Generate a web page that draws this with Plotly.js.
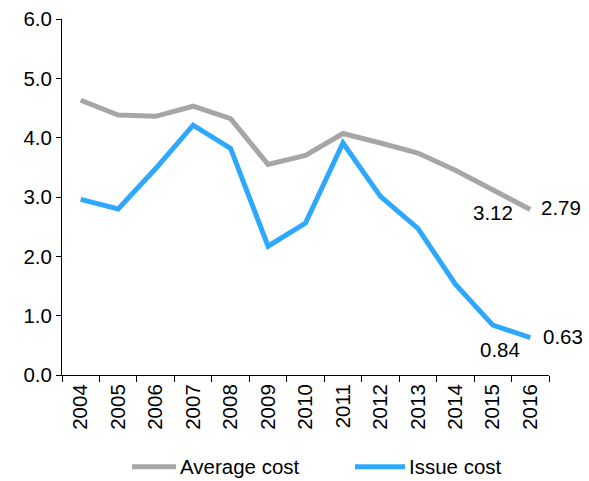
<!DOCTYPE html>
<html>
<head>
<meta charset="utf-8">
<script src="https://cdn.plot.ly/plotly-3.0.1.min.js"></script>
<style>html,body{margin:0;padding:0;background:#fff;}#chart{width:589px;height:481px;}</style>
</head>
<body>
<div id="chart"></div>
<script>
var years = ["2004","2005","2006","2007","2008","2009","2010","2011","2012","2013","2014","2015","2016"];
var averageCost = [4.63, 4.38, 4.36, 4.53, 4.32, 3.55, 3.70, 4.07, 3.91, 3.74, 3.45, 3.12, 2.79];
var issueCost = [2.96, 2.80, 3.48, 4.21, 3.82, 2.17, 2.56, 3.91, 3.01, 2.47, 1.53, 0.84, 0.63];
var yTicks = [0, 1, 2, 3, 4, 5, 6];
var yTickLabels = ["0.0", "1.0", "2.0", "3.0", "4.0", "5.0", "6.0"];
var seriesNames = ["Average cost", "Issue cost"];

var grey = "#A6A6A6", blue = "#2EA8FF";
var FONT = "Liberation Sans, Arial, sans-serif";
var fs = 20.5;

var traces = [
  {x: years, y: averageCost, type: "scatter", mode: "lines", name: seriesNames[0],
   line: {color: grey, width: 5}, showlegend: false, hoverinfo: "skip"},
  {x: years, y: issueCost, type: "scatter", mode: "lines", name: seriesNames[1],
   line: {color: blue, width: 5}, showlegend: false, hoverinfo: "skip"}
];

var n = years.length;
function lbl(i, yv, xs, ys) {
  return {x: i, y: yv, xref: "x", yref: "y", text: yv.toFixed(2), showarrow: false,
          xshift: xs, yshift: ys, font: {family: FONT, size: fs, color: "#000"}};
}
var annotations = [
  lbl(n - 2, averageCost[n-2], 0, -23),
  lbl(n - 1, averageCost[n-1], 31, 2),
  lbl(n - 2, issueCost[n-2], 7, -24),
  lbl(n - 1, issueCost[n-1], 33, 1),
  {x: 0.238, y: -0.258, xref: "paper", yref: "paper", xanchor: "left", yanchor: "middle",
   text: seriesNames[0], showarrow: false, font: {family: FONT, size: fs, color: "#000"}},
  {x: 0.708, y: -0.258, xref: "paper", yref: "paper", xanchor: "left", yanchor: "middle",
   text: seriesNames[1], showarrow: false, font: {family: FONT, size: fs, color: "#000"}}
];
var shapes = [
  {type: "line", xref: "paper", yref: "paper", x0: 0.1437, x1: 0.234, y0: -0.258, y1: -0.258,
   line: {color: grey, width: 5}},
  {type: "line", xref: "paper", yref: "paper", x0: 0.6016, x1: 0.7043, y0: -0.258, y1: -0.258,
   line: {color: blue, width: 5}}
];

var layout = {
  width: 589, height: 481,
  margin: {l: 62, r: 40, t: 19, b: 106},
  paper_bgcolor: "#fff", plot_bgcolor: "#fff",
  font: {family: FONT, size: fs, color: "#000"},
  showlegend: false,
  xaxis: {
    type: "category", categoryarray: years, range: [-0.5, n - 0.5],
    showline: true, linecolor: "#000", linewidth: 1,
    ticks: "outside", ticklen: 6, tickcolor: "#000", tickwidth: 1,
    tickson: "boundaries", tickangle: -90,
    showgrid: false, zeroline: false,
    tickfont: {family: FONT, size: fs, color: "#000"}
  },
  yaxis: {
    range: [0, 6], tickvals: yTicks, ticktext: yTickLabels,
    showline: true, linecolor: "#000", linewidth: 1,
    ticks: "outside", ticklen: 5, tickcolor: "#000", tickwidth: 1,
    showgrid: false, zeroline: false,
    tickfont: {family: FONT, size: fs, color: "#000"}
  },
  annotations: annotations,
  shapes: shapes
};

Plotly.newPlot("chart", traces, layout, {displayModeBar: false, staticPlot: true});
</script>
</body>
</html>
